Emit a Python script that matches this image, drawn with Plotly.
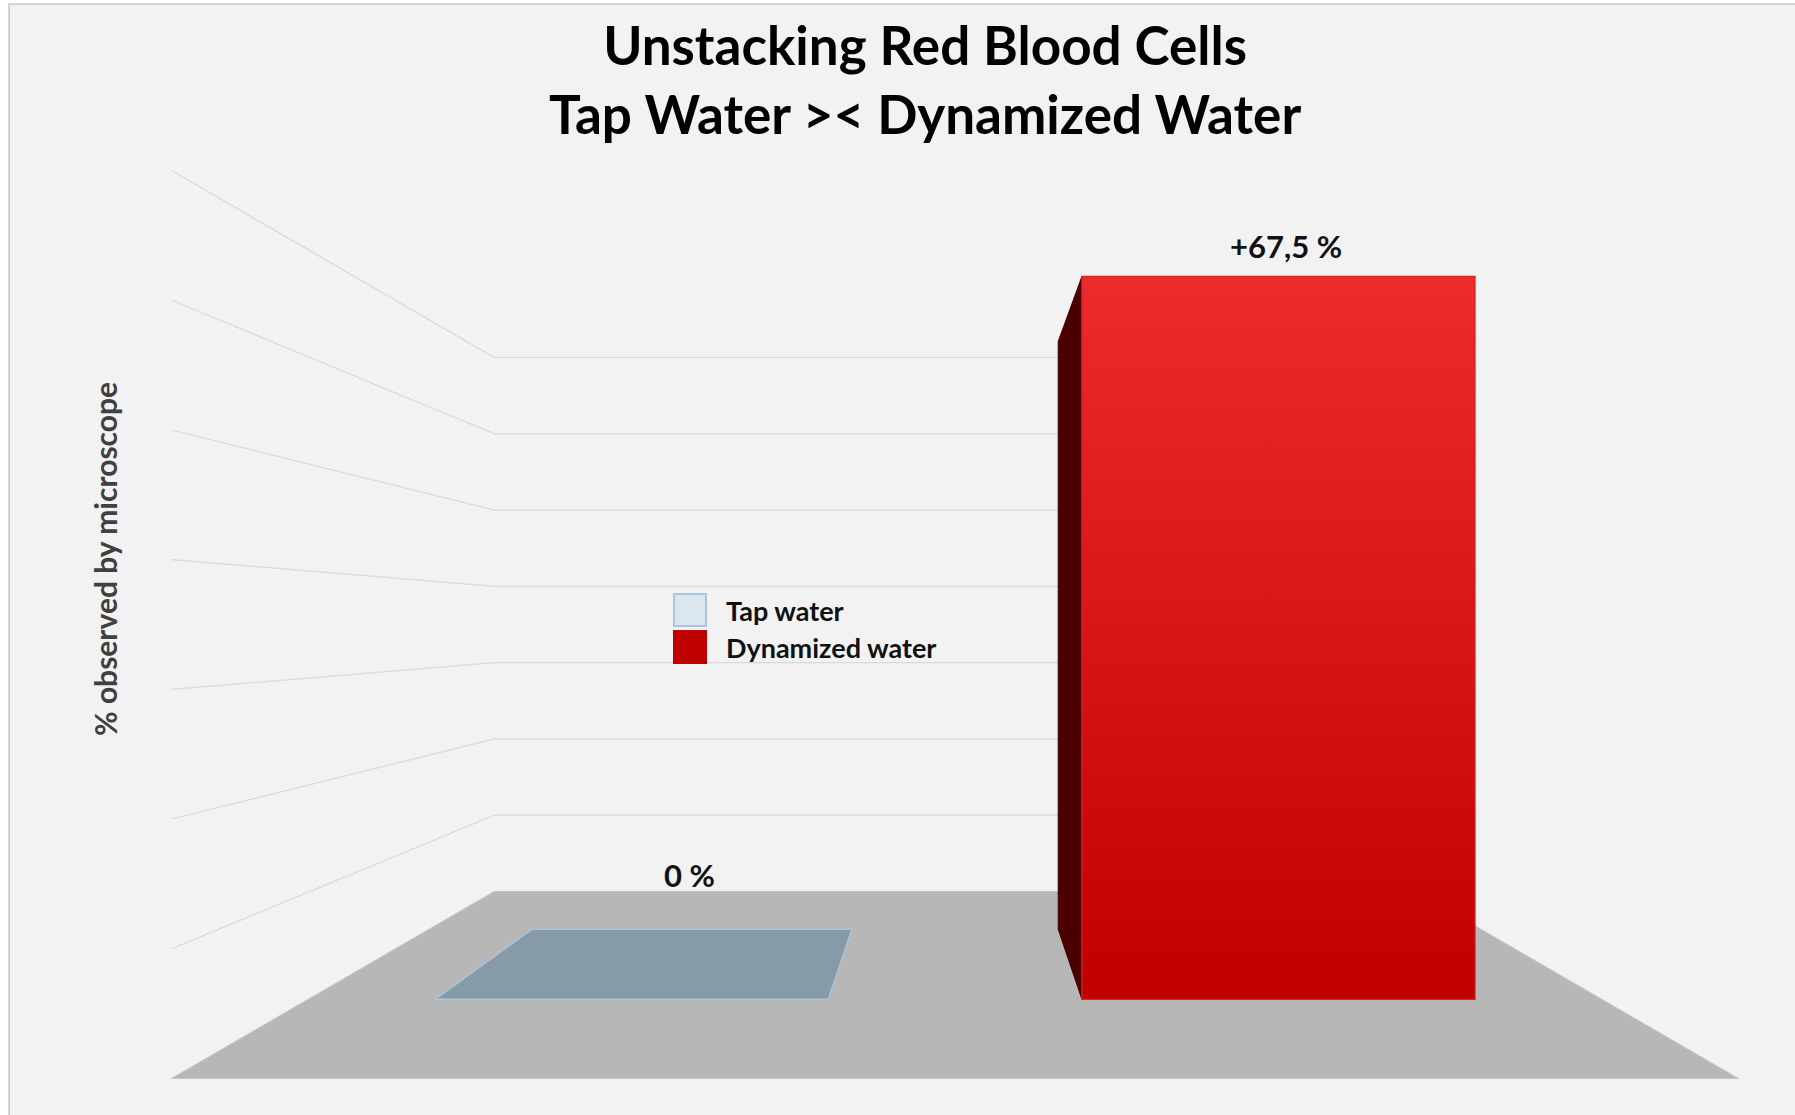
#! /usr/bin/env python3
import plotly.graph_objects as go

# data
categories = ["Tap water", "Dynamized water"]
values = [0, 67.5]
value_labels = ["0 %", "+67,5 %"]
grid_values = [10, 20, 30, 40, 50, 60, 70]

title_text = "Unstacking Red Blood Cells<br>Tap Water >< Dynamized Water"
ytitle_text = "% observed by microscope"

# look of each series: legend swatch, front fill, top face, side face, edge
legend_fill = ["#DCE6F0", "#C00000"]
legend_edge = ["#A9C6E0", "#C00000"]
front_fill = ["#DCE6F0", ["#C00000", "#EC2B2B"]]   # gradient bottom -> top
top_fill = ["#879AA8", "#E02525"]
side_fill = ["#7A8D9B", "#4A0000"]
edge_col = ["#A9C6E0", "#D42828"]

W, H = 1795, 1115
FONT = "Lato, Open Sans, sans-serif"

# fake 3D camera (Excel style perspective), px units
CX, CY = 955.0, 624.5
FOCAL = 1686
EYE = 35            # eye height in value units
Z_FRONT, Z_BACK = 130, 221
BAR_Z = (157.4, 193.6)
HALF = 60.4         # half width of the floor
SLOT = 60.4
BAR_W = 36.7


def proj(u, z, h):
    return CX + FOCAL * u / z, CY + FOCAL * (EYE - h) / z


def poly(pts):
    xs, ys = [], []
    for p in pts:
        x, y = proj(*p)
        xs.append(x)
        ys.append(y)
    xs.append(xs[0])
    ys.append(ys[0])
    return xs, ys


fig = go.Figure()

# floor
fx, fy = poly([(-HALF, Z_FRONT, 0), (HALF, Z_FRONT, 0), (HALF, Z_BACK, 0), (-HALF, Z_BACK, 0)])
fig.add_trace(go.Scatter(x=fx, y=fy, fill="toself", fillcolor="#B7B7B7",
                         line=dict(color="#C4C4C4", width=1), mode="lines",
                         showlegend=False, hoverinfo="skip"))

# wall gridlines (side wall + back wall)
gx, gy = [], []
for v in grid_values:
    for a, b in [((-HALF, Z_FRONT, v), (-HALF, Z_BACK, v)), ((-HALF, Z_BACK, v), (HALF, Z_BACK, v))]:
        x0, y0 = proj(*a)
        x1, y1 = proj(*b)
        gx += [x0, x1, None]
        gy += [y0, y1, None]
fig.add_trace(go.Scatter(x=gx, y=gy, mode="lines", line=dict(color="#D9D9D9", width=1.2),
                         showlegend=False, hoverinfo="skip"))

# bars
z0, z1 = BAR_Z
n = len(categories)
for i, (cat, v) in enumerate(zip(categories, values)):
    uc = (i - (n - 1) / 2) * SLOT
    u0, u1 = uc - BAR_W / 2, uc + BAR_W / 2

    # top face, visible when below the eye
    if v < EYE:
        tx, ty = poly([(u0, z0, v), (u1, z0, v), (u1, z1, v), (u0, z1, v)])
        fig.add_trace(go.Scatter(x=tx, y=ty, fill="toself", fillcolor=top_fill[i], mode="lines",
                                 line=dict(color=edge_col[i], width=1.2),
                                 showlegend=False, hoverinfo="skip"))
    # side face facing the middle
    if v > 0:
        us = u0 if u0 > 0 else u1
        sx, sy = poly([(us, z0, 0), (us, z0, v), (us, z1, v), (us, z1, 0)])
        fig.add_trace(go.Scatter(x=sx, y=sy, fill="toself", fillcolor=side_fill[i], mode="lines",
                                 line=dict(color=side_fill[i], width=1),
                                 showlegend=False, hoverinfo="skip"))
    # front face
    ox, oy = poly([(u0, z0, 0), (u1, z0, 0), (u1, z0, v), (u0, z0, v)])
    kw = dict(fillcolor=front_fill[i]) if isinstance(front_fill[i], str) else dict(
        fillgradient=dict(type="vertical",
                          colorscale=[[0, front_fill[i][0]], [1, front_fill[i][1]]]))
    fig.add_trace(go.Scatter(x=ox, y=oy, fill="toself", mode="lines", name=cat,
                             line=dict(color=edge_col[i], width=1.2), showlegend=False,
                             hoverinfo="skip", **kw))

# value labels
label_shift = [(58, 33), (8, 9)]
for i, v in enumerate(values):
    uc = (i - (n - 1) / 2) * SLOT
    lx, ly = proj(uc, z0, v)
    if v < EYE:
        ly = proj(uc, z1, v)[1]
    fig.add_annotation(x=lx, y=ly, text=value_labels[i], showarrow=False,
                       xshift=label_shift[i][0], yshift=label_shift[i][1], yanchor="bottom",
                       font=dict(family=FONT, size=31, color="#111111", weight="bold"))

# legend, drawn by hand so the swatches can be big
LEG_X, LEG_Y, LEG_DY = 690, 610, 37
for i, cat in enumerate(categories):
    fig.add_trace(go.Scatter(x=[LEG_X], y=[LEG_Y + i * LEG_DY], mode="markers",
                             marker=dict(symbol="square", size=32, color=legend_fill[i],
                                         line=dict(color=legend_edge[i], width=2)),
                             showlegend=False, hoverinfo="skip"))
    fig.add_annotation(x=LEG_X + 34, y=LEG_Y + i * LEG_DY, text=cat, showarrow=False,
                       xanchor="left", yanchor="middle",
                       font=dict(family=FONT, size=27, color="#111111", weight="bold"))

fig.add_annotation(x=925, y=79, text=title_text, showarrow=False,
                   font=dict(family=FONT, size=53, color="black", weight="bold"))
fig.add_annotation(x=105, y=559, text="<b>" + ytitle_text + "</b>", showarrow=False,
                   textangle=-90,
                   font=dict(family=FONT, size=30, color="#404040", weight="bold"))

fig.add_shape(type="rect", x0=9, y0=4, x1=W + 10, y1=H + 10, xref="x", yref="y",
              fillcolor="#F2F2F2", line=dict(color="#C8C8C8", width=1.5), layer="below")

fig.update_layout(
    width=W, height=H,
    margin=dict(l=0, r=0, t=0, b=0),
    paper_bgcolor="white", plot_bgcolor="white",
    xaxis=dict(range=[0, W], visible=False, fixedrange=True),
    yaxis=dict(range=[H, 0], visible=False, fixedrange=True),
    showlegend=False,
    font=dict(family=FONT),
)

fig.write_html("out.html", config={"displayModeBar": False},
               post_script="document.body.style.margin='0';")
